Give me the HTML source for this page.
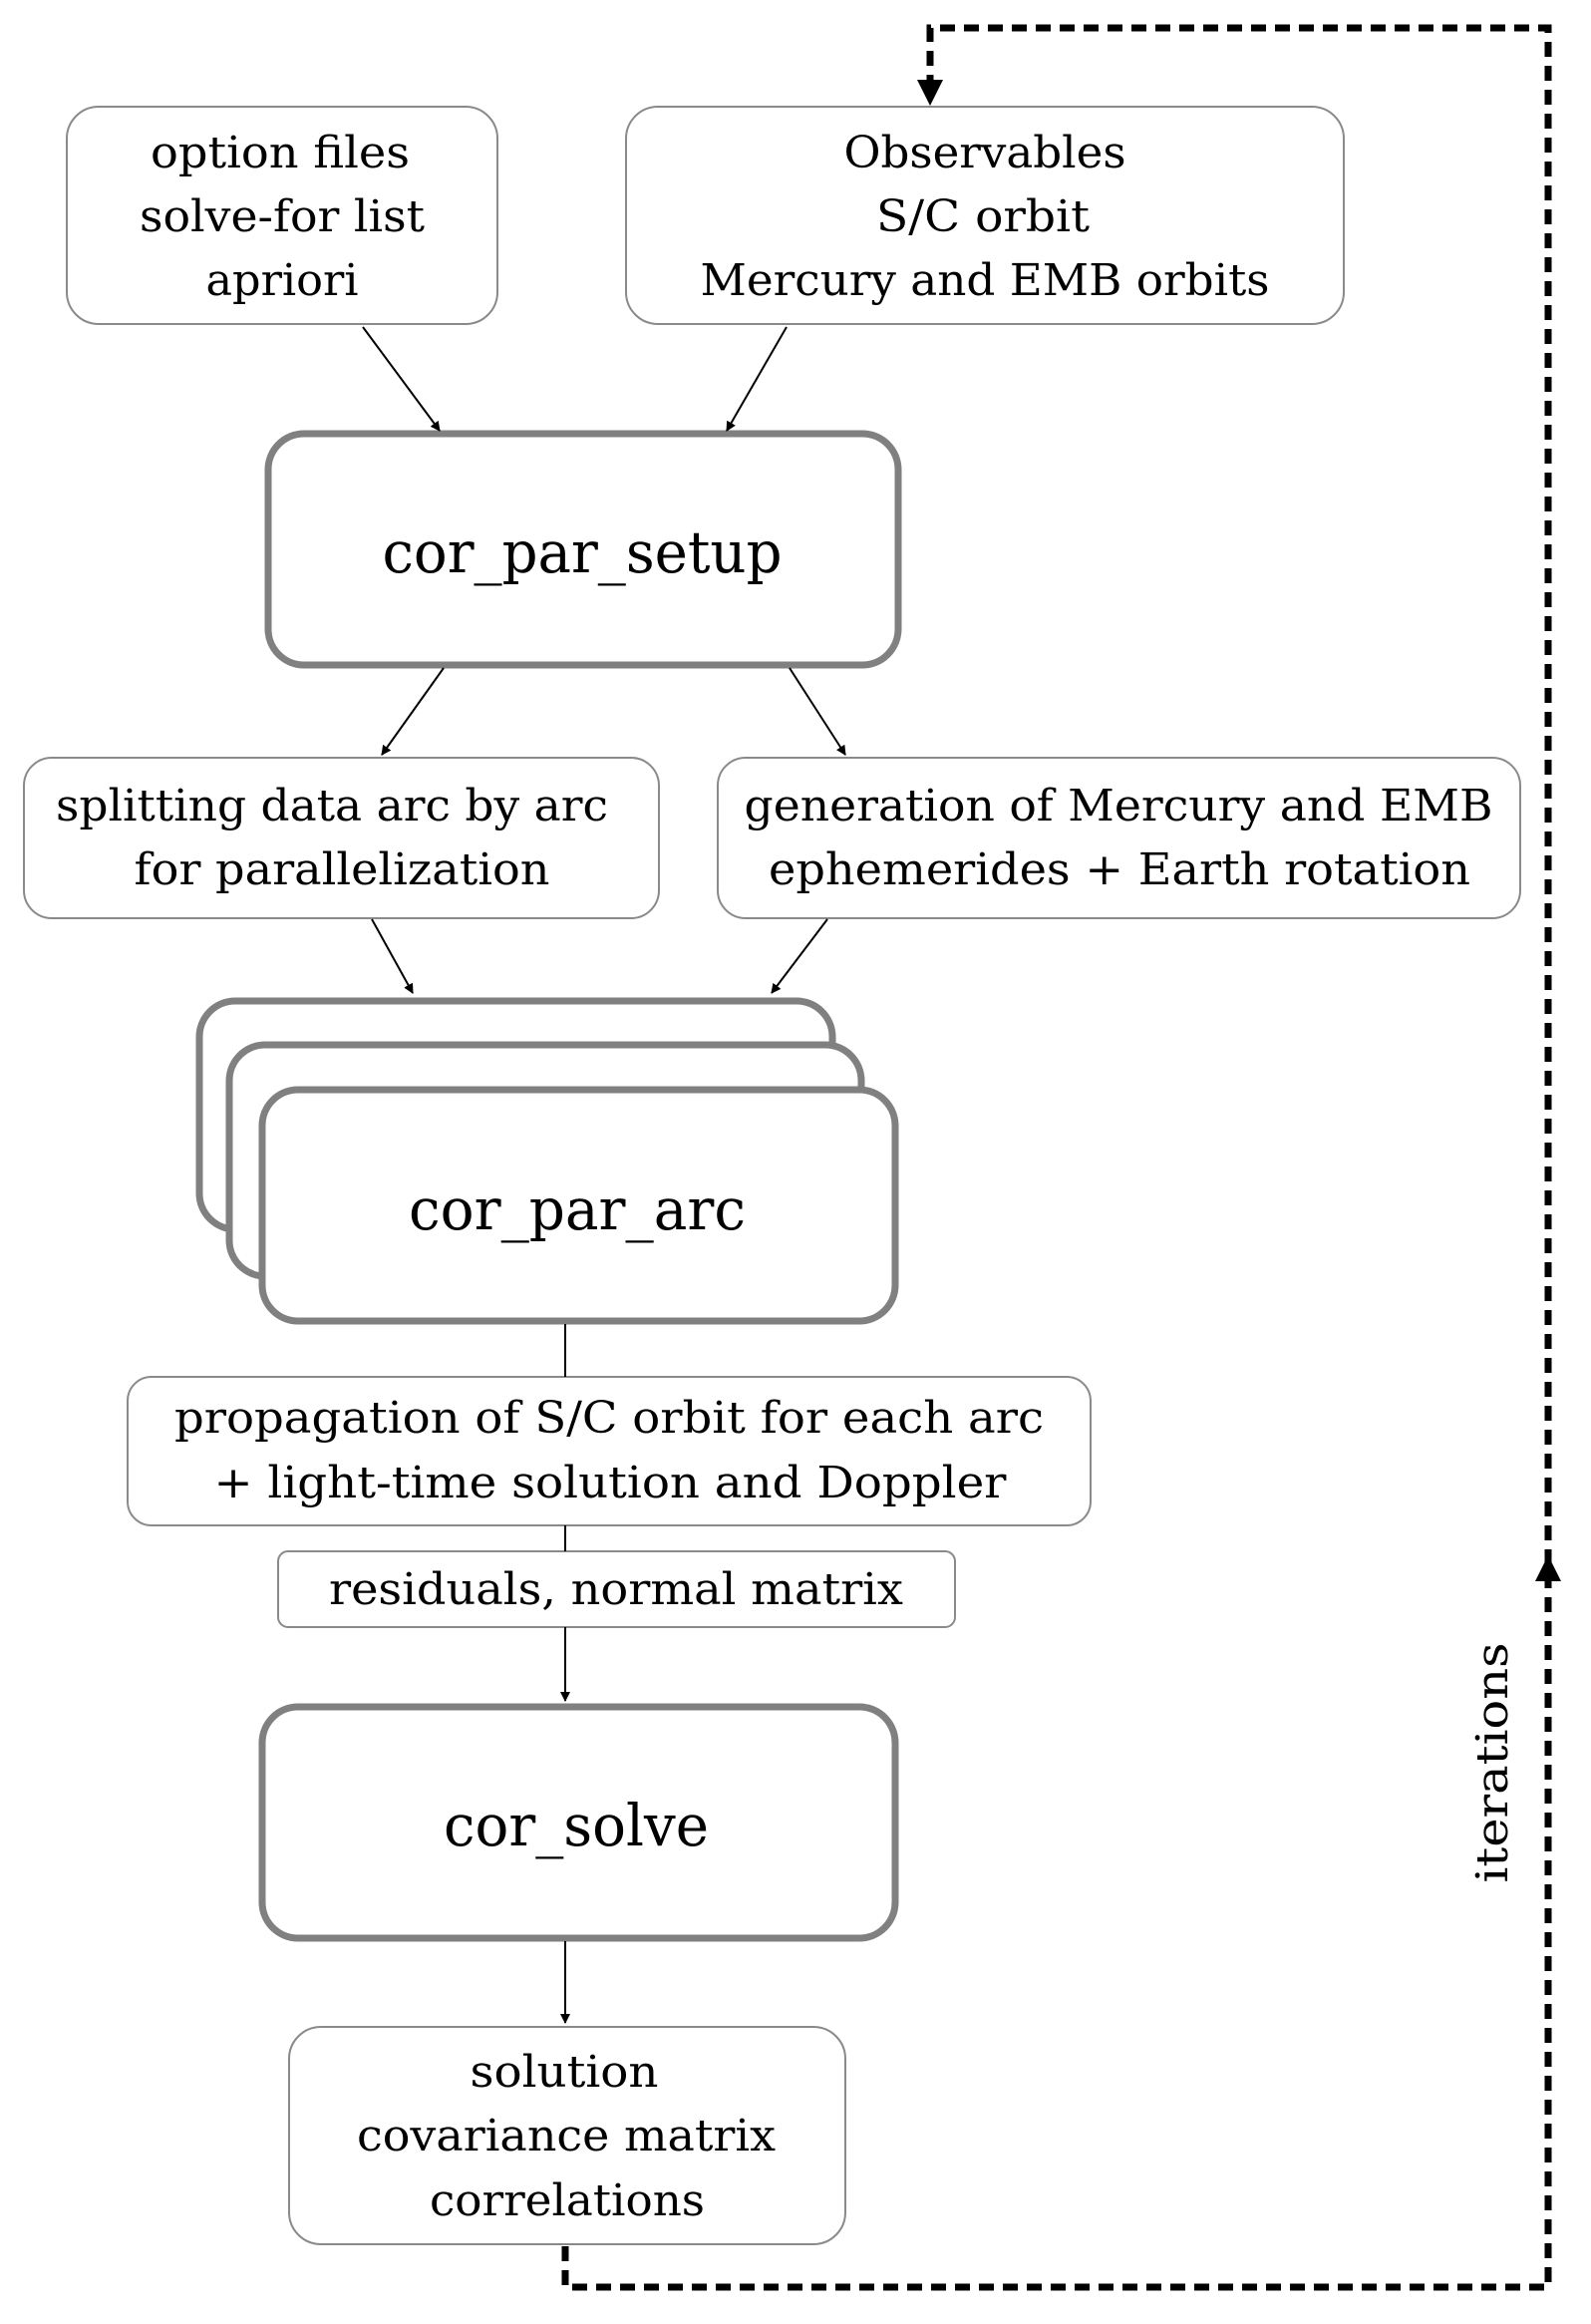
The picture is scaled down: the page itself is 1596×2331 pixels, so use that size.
<!DOCTYPE html>
<html><head><meta charset="utf-8"><style>html,body{margin:0;padding:0;background:#fff}svg{display:block}</style></head>
<body>
<svg width="1596" height="2331" viewBox="0 0 1596 2331" xmlns="http://www.w3.org/2000/svg">
<defs>
<marker id="a" markerWidth="10" markerHeight="10" refX="9" refY="5" orient="auto" markerUnits="userSpaceOnUse" viewBox="0 0 10 10"><path d="M0,0 L10,5 L0,10 z" fill="#000"/></marker>
</defs>
<g fill="#fff" stroke="#8a8a8a" stroke-width="2">
<rect x="67" y="107" width="432" height="218" rx="32"/>
<rect x="628" y="107" width="720" height="218" rx="32"/>
<rect x="24" y="760" width="637" height="161" rx="28"/>
<rect x="720" y="760" width="805" height="161" rx="28"/>
<rect x="128" y="1381" width="966" height="149" rx="24"/>
<rect x="279" y="1556" width="679" height="76" rx="10"/>
<rect x="290" y="2033" width="558" height="218" rx="32"/>
</g>
<g fill="#fff" stroke="#808080" stroke-width="7">
<rect x="269" y="435" width="632" height="232" rx="36"/>
<rect x="200" y="1004" width="635" height="229" rx="36"/>
<rect x="230" y="1048" width="634" height="232" rx="36"/>
<rect x="263" y="1093" width="635" height="232" rx="36"/>
<rect x="263" y="1712" width="635" height="232" rx="36"/>
</g>
<g stroke="#000" stroke-width="2" fill="none">
<line x1="364" y1="328" x2="441" y2="432" marker-end="url(#a)"/>
<line x1="789" y1="328" x2="729" y2="432" marker-end="url(#a)"/>
<line x1="445" y1="670" x2="383" y2="757" marker-end="url(#a)"/>
<line x1="792" y1="670" x2="848" y2="757" marker-end="url(#a)"/>
<line x1="373" y1="922" x2="414" y2="996" marker-end="url(#a)"/>
<line x1="830" y1="922" x2="774" y2="996" marker-end="url(#a)"/>
<line x1="567" y1="1328" x2="567" y2="1381"/>
<line x1="567" y1="1530" x2="567" y2="1556"/>
<line x1="567" y1="1632" x2="567" y2="1706" marker-end="url(#a)"/>
<line x1="567" y1="1947" x2="567" y2="2029" marker-end="url(#a)"/>
</g>
<g stroke="#000" stroke-width="7" fill="none" stroke-dasharray="15 9">
<polyline points="567,2253 567,2294 1553,2294 1553,28 933,28 933,88"/>
</g>
<path d="M920,80 L946,80 L933,106 z" fill="#000"/>
<path d="M1540,1586 L1566,1586 L1553,1560 z" fill="#000"/>
<g font-family="'DejaVu Serif','Liberation Serif',serif" font-size="44" fill="#000" text-anchor="middle" lengthAdjust="spacingAndGlyphs">
<text x="281" y="168" textLength="260" lengthAdjust="spacingAndGlyphs">option files</text>
<text x="283" y="232" textLength="286" lengthAdjust="spacingAndGlyphs">solve-for list</text>
<text x="283" y="296" textLength="153" lengthAdjust="spacingAndGlyphs">apriori</text>
<text x="988" y="168" textLength="283" lengthAdjust="spacingAndGlyphs">Observables</text>
<text x="986" y="232" textLength="214" lengthAdjust="spacingAndGlyphs">S/C orbit</text>
<text x="988" y="296" textLength="571" lengthAdjust="spacingAndGlyphs">Mercury and EMB orbits</text>
<text x="333" y="823" textLength="554" lengthAdjust="spacingAndGlyphs">splitting data arc by arc</text>
<text x="343" y="887" textLength="417" lengthAdjust="spacingAndGlyphs">for parallelization</text>
<text x="1122" y="823" textLength="751" lengthAdjust="spacingAndGlyphs">generation of Mercury and EMB</text>
<text x="1123" y="887" textLength="704" lengthAdjust="spacingAndGlyphs">ephemerides + Earth rotation</text>
<text x="611" y="1437" textLength="872" lengthAdjust="spacingAndGlyphs">propagation of S/C orbit for each arc</text>
<text x="612" y="1502" textLength="795" lengthAdjust="spacingAndGlyphs">+ light-time solution and Doppler</text>
<text x="618" y="1609" textLength="576" lengthAdjust="spacingAndGlyphs">residuals, normal matrix</text>
<text x="566" y="2093" textLength="189" lengthAdjust="spacingAndGlyphs">solution</text>
<text x="568" y="2157" textLength="420" lengthAdjust="spacingAndGlyphs">covariance matrix</text>
<text x="569" y="2222" textLength="276" lengthAdjust="spacingAndGlyphs">correlations</text>
<text x="0" y="0" transform="translate(1512,1768) rotate(-90)" textLength="241" lengthAdjust="spacingAndGlyphs">iterations</text>
</g>
<g font-family="'DejaVu Serif','Liberation Serif',serif" font-size="58" fill="#000" text-anchor="middle">
<text x="584" y="574" textLength="401" lengthAdjust="spacingAndGlyphs">cor_par_setup</text>
<text x="579" y="1233" textLength="338" lengthAdjust="spacingAndGlyphs">cor_par_arc</text>
<text x="578" y="1851" textLength="266" lengthAdjust="spacingAndGlyphs">cor_solve</text>
</g>
</svg>
</body></html>
